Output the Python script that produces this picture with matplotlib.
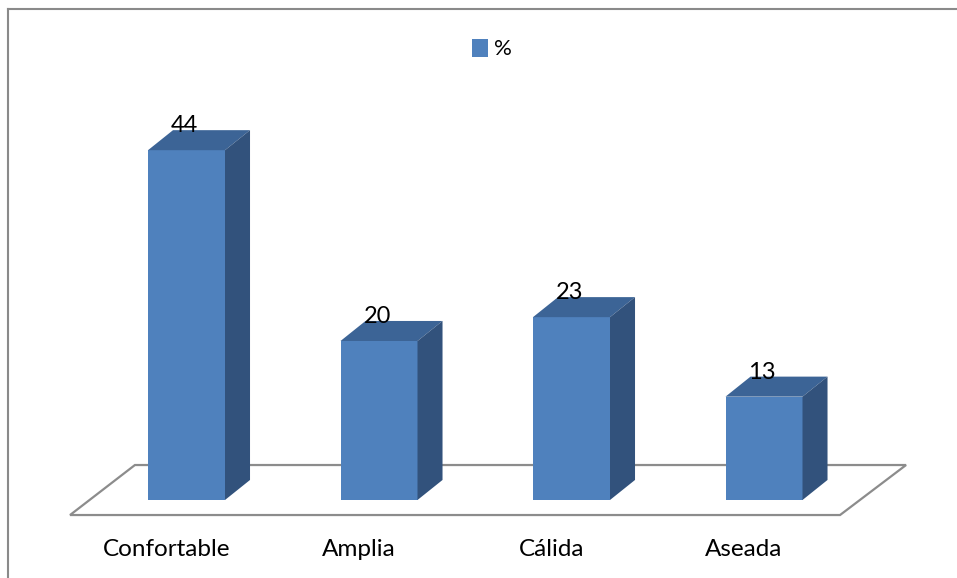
import matplotlib.pyplot as plt
from matplotlib.patches import Polygon, Rectangle
from matplotlib.lines import Line2D

categories = ["Confortable", "Amplia", "Cálida", "Aseada"]
values = [44, 20, 23, 13]
series_name = "%"

FRONT = "#4F81BD"
TOP = "#3C6496"
SIDE = "#32527C"
GRID = "#8C8C8C"

plt.rcParams["font.family"] = ["Lato", "DejaVu Sans"]

W, H = 957, 578
fig = plt.figure(figsize=(W / 100, H / 100), dpi=100)
# axes placed so that category i sits at pixel 186.5 + 192.5*i and y=0 at pixel row 500
ax = fig.add_axes([90.25 / W, (H - 500) / H, 770 / W, 397.5 / H])
ax.set_xlim(-0.5, 3.5)
ax.set_ylim(0, 50)
ax.axis("off")

# depth of the 3d effect, in data units
bw = 0.4
ddx, ddy = 0.13, 2.52

# floor
fl = [(-0.605, -1.89), (3.395, -1.89), (3.738, 4.4), (-0.268, 4.4)]
ax.add_patch(Polygon(fl, closed=True, fill=False, edgecolor=GRID, lw=1.6,
                     clip_on=False, zorder=1))

x = list(range(len(categories)))
bars = ax.bar(x, values, width=bw, color=FRONT, zorder=3, clip_on=False)
for b, v in zip(bars, values):
    x0 = b.get_x()
    x1 = x0 + b.get_width()
    top = [(x0, v), (x1, v), (x1 + ddx, v + ddy), (x0 + ddx, v + ddy)]
    side = [(x1, 0), (x1 + ddx, ddy), (x1 + ddx, v + ddy), (x1, v)]
    ax.add_patch(Polygon(top, closed=True, facecolor=TOP, edgecolor="none",
                         zorder=3, clip_on=False))
    ax.add_patch(Polygon(side, closed=True, facecolor=SIDE, edgecolor="none",
                         zorder=3, clip_on=False))
    ax.text(b.get_x() + bw / 2 - 0.01, v + 3.1, str(v), ha="center",
            va="center", fontsize=17, color="black", zorder=5)

for i, c in enumerate(categories):
    ax.text(i - 0.105, -6.2, c, ha="center", va="center", fontsize=17.5,
            color="black")

# chart border (only top and left edges are visible)
fig.add_artist(Line2D([8 / W, 1], [1 - 9 / H, 1 - 9 / H], color="#8A8A8A", lw=1.5))
fig.add_artist(Line2D([8 / W, 8 / W], [0, 1 - 9 / H], color="#8A8A8A", lw=1.5))

# legend
handle = Rectangle((0, 0), 1, 1, facecolor=FRONT)
fig.legend([handle], [series_name], loc="center", frameon=False,
           bbox_to_anchor=(492 / W, 1 - 49 / H), fontsize=16,
           handlelength=0.7, handleheight=0.9, handletextpad=0.3)

fig.savefig("out.png", dpi=100)
